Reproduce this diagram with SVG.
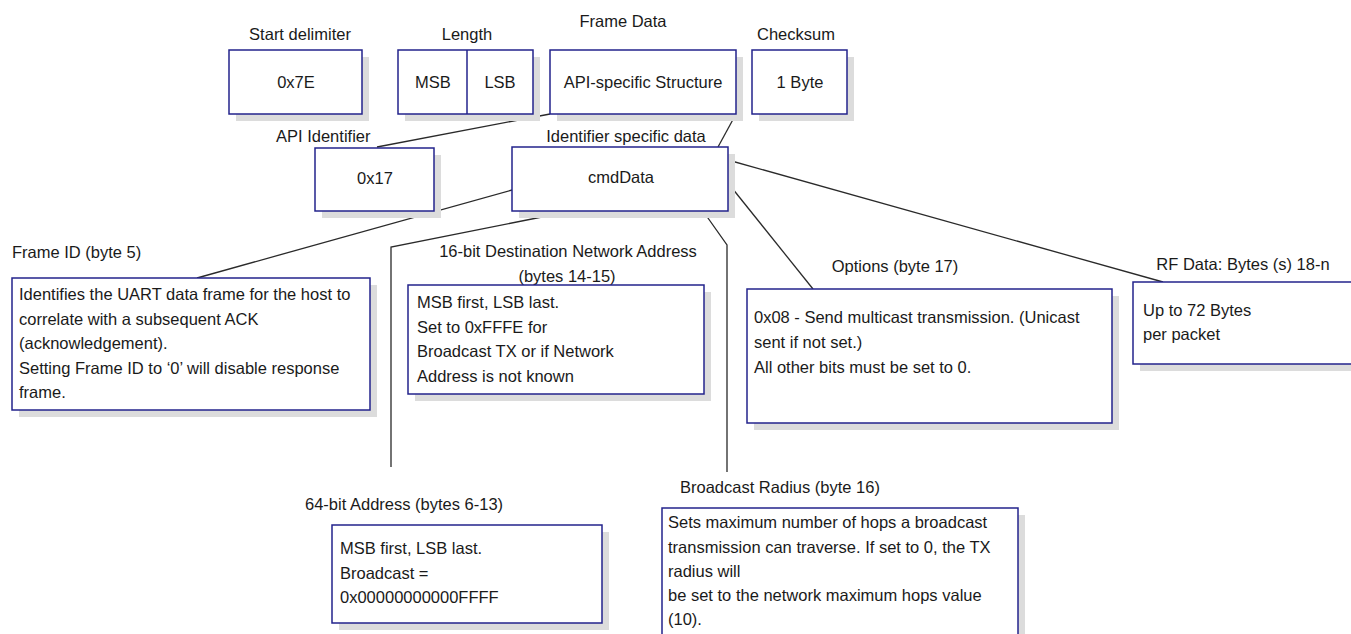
<svg xmlns="http://www.w3.org/2000/svg" width="1351" height="634" viewBox="0 0 1351 634">
<style>
.bg{fill:#ffffff}
.sh{fill:#dcdcdc}
.box{fill:#ffffff;stroke:#23238c;stroke-width:1.5}
.ln{fill:none;stroke:#2a2a2a;stroke-width:1.3}
text{font-family:"Liberation Sans",Arial,sans-serif;font-size:16.5px;fill:#1a1a1a}
.c{text-anchor:middle}
</style>
<rect class="bg" x="0" y="0" width="1351" height="634"/>
<g id="connectors">
<polyline class="ln" points="550,114 377,147"/>
<polyline class="ln" points="736,114 718,147"/>
<polyline class="ln" points="512,190 197,278"/>
<polyline class="ln" points="572,211 391,247 391,467"/>
<polyline class="ln" points="703,211 727,245 727,472"/>
<polyline class="ln" points="728,183 813,289"/>
<polyline class="ln" points="728,160 1163,282"/>
</g>
<g id="start-delimiter">
<text class="c" x="300" y="40">Start delimiter</text>
<rect class="sh" x="236" y="57" width="133" height="64"/>
<rect class="box" x="229" y="50" width="133" height="64"/>
<text class="c" x="296" y="88">0x7E</text>
</g>
<g id="length">
<text class="c" x="467" y="40">Length</text>
<rect class="sh" x="405" y="57" width="135" height="64"/>
<rect class="box" x="398" y="50" width="135" height="64"/>
<line class="box" x1="467" y1="50" x2="467" y2="114"/>
<text class="c" x="433" y="88">MSB</text>
<text class="c" x="500" y="88">LSB</text>
</g>
<g id="frame-data">
<text class="c" x="623" y="27">Frame Data</text>
<rect class="sh" x="557" y="57" width="186" height="64"/>
<rect class="box" x="550" y="50" width="186" height="64"/>
<text class="c" x="643" y="88">API-specific Structure</text>
</g>
<g id="checksum">
<text class="c" x="796" y="40">Checksum</text>
<rect class="sh" x="759" y="57" width="95" height="64"/>
<rect class="box" x="752" y="50" width="95" height="64"/>
<text class="c" x="800" y="88">1 Byte</text>
</g>
<g id="api-identifier">
<text x="276" y="142">API Identifier</text>
<rect class="sh" x="322" y="155" width="119" height="63"/>
<rect class="box" x="315" y="148" width="119" height="63"/>
<text class="c" x="375" y="184">0x17</text>
</g>
<g id="cmddata">
<text class="c" x="626" y="142">Identifier specific data</text>
<rect class="sh" x="519" y="154" width="216" height="64"/>
<rect class="box" x="512" y="147" width="216" height="64"/>
<text class="c" x="621" y="183">cmdData</text>
</g>
<g id="frame-id">
<text x="12" y="258">Frame ID (byte 5)</text>
<rect class="sh" x="19" y="285" width="358" height="132"/>
<rect class="box" x="12" y="278" width="358" height="132"/>
<text x="19" y="300">Identifies the UART data frame for the host to</text>
<text x="19" y="325">correlate with a subsequent ACK</text>
<text x="19" y="349">(acknowledgement).</text>
<text x="19" y="374">Setting Frame ID to ‘0’ will disable response</text>
<text x="19" y="398">frame.</text>
</g>
<g id="dest-16bit">
<text class="c" x="568" y="257">16-bit Destination Network Address</text>
<text class="c" x="567" y="282">(bytes 14-15)</text>
<rect class="sh" x="415" y="292" width="296" height="109"/>
<rect class="box" x="408" y="285" width="296" height="109"/>
<text x="417" y="308">MSB first, LSB last.</text>
<text x="417" y="333">Set to 0xFFFE for</text>
<text x="417" y="357">Broadcast TX or if Network</text>
<text x="417" y="382">Address is not known</text>
</g>
<g id="options">
<text class="c" x="895" y="272">Options (byte 17)</text>
<rect class="sh" x="754" y="296" width="365" height="134"/>
<rect class="box" x="747" y="289" width="365" height="134"/>
<text x="754" y="323">0x08 - Send multicast transmission.  (Unicast</text>
<text x="754" y="348">sent if not set.)</text>
<text x="754" y="373">All other bits must be set to 0.</text>
</g>
<g id="rf-data">
<text class="c" x="1243" y="270">RF Data: Bytes (s) 18-n</text>
<rect class="sh" x="1140" y="289" width="240" height="82"/>
<rect class="box" x="1133" y="282" width="240" height="82"/>
<text x="1143" y="316">Up to 72 Bytes</text>
<text x="1143" y="340">per packet</text>
</g>
<g id="address-64bit">
<text x="305" y="510">64-bit Address (bytes 6-13)</text>
<rect class="sh" x="339" y="532" width="270" height="98"/>
<rect class="box" x="332" y="525" width="270" height="98"/>
<text x="340" y="554">MSB first, LSB last.</text>
<text x="340" y="579">Broadcast =</text>
<text x="340" y="603">0x00000000000FFFF</text>
</g>
<g id="broadcast-radius">
<text x="680" y="493">Broadcast Radius (byte 16)</text>
<rect class="sh" x="669" y="515" width="356" height="140"/>
<rect class="box" x="662" y="508" width="356" height="140"/>
<text x="668" y="528">Sets maximum number of hops a broadcast</text>
<text x="668" y="553">transmission can traverse. If set to 0, the TX</text>
<text x="668" y="577">radius will</text>
<text x="668" y="601">be set to the network maximum hops value</text>
<text x="668" y="625">(10).</text>
</g>
</svg>
